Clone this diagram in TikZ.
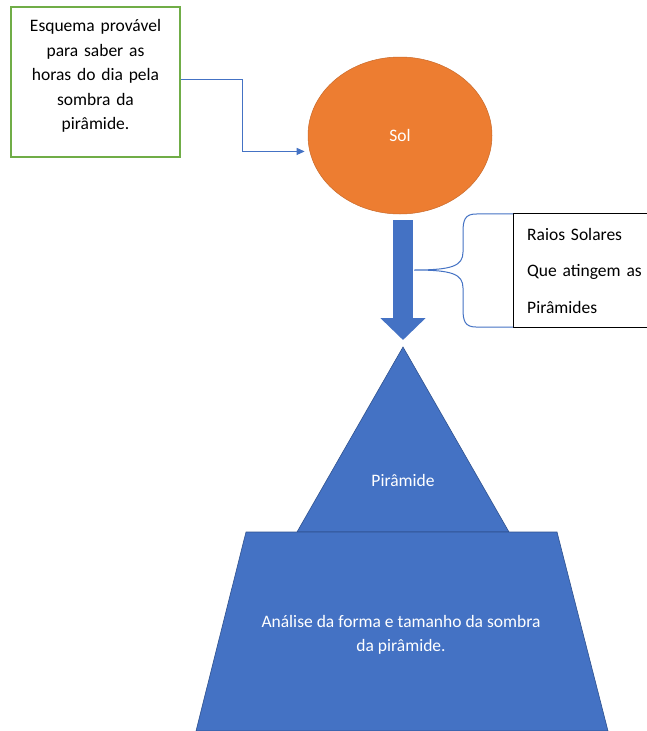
\documentclass[tikz,border=0pt]{standalone}
\usepackage{fontspec}
\setmainfont{Carlito}
\usetikzlibrary{arrows.meta,positioning,shapes.geometric,calc}
\definecolor{wordGreen}{HTML}{70AD47}
\definecolor{wordOrange}{HTML}{ED7D31}
\definecolor{wordBlue}{HTML}{4472C4}
\definecolor{wordBlueDk}{HTML}{2F528F}
\tikzset{
  caixa/.style={draw=wordGreen, line width=1.2pt, minimum width=169pt, minimum height=150pt},
  texto/.style={align=center, text width=150pt, font=\fontsize{17.5}{24.5}\selectfont},
  sol/.style={ellipse, fill=wordOrange, draw=wordOrange!85!black, line width=0.5pt, minimum width=184pt, minimum height=157pt, text=white, font=\fontsize{17.5}{21}\selectfont},
  bloco/.style={fill=wordBlue, draw=wordBlueDk, line width=0.6pt},
  rotulo/.style={text=white, align=center, font=\fontsize{17.5}{24.5}\selectfont},
  ligacao/.style={draw=wordBlue, line width=1pt, -{Triangle[length=8pt,width=7pt]}},
  raio/.style={draw=wordBlue, line width=20pt, -{Triangle[length=22pt,width=44pt]}},
  chave/.style={draw=wordBlue, line width=1pt},
}
\begin{document}
\begin{tikzpicture}[x=1pt,y=-1pt]
\useasboundingbox[fill=white] (0,0) rectangle (647,731);

\node[caixa] (esquema) at (95.5,82) {};
\node[texto] (esquematexto) at ([yshift=6pt]esquema.center) {Esquema provável\\para saber as\\horas do dia pela\\sombra da\\pirâmide.};
\node[sol] (sol) at (400,135.5) {Sol};
\draw[ligacao] (esquema.east) ++(0,3pt) -- ++(62,0) |- ([xshift=-5pt]sol.190);

% raios solares
\draw[raio] ([xshift=3pt,yshift=-6pt]sol.south) -- (403,340);
\coordinate (ponta) at (414,270);
\node[align=left, text width=132pt, inner xsep=14pt, minimum width=160pt, minimum height=113pt, anchor=west, font=\fontsize{17.5}{36.5}\selectfont] (raios) at (513,270.5) {Raios Solares\\Que atingem as\\Pirâmides};
\draw[line width=1pt] (raios.north west) ++(134,0) -- (raios.north west) -- (raios.south west) -- ++(134,0);
\draw[chave] (raios.north west) -- (476,214) .. controls (465,214) and (463,220) .. (463,232) -- (463,252)
  .. controls (463,266) and (452,270) .. (ponta) .. controls (452,270) and (463,274) .. (463,288)
  -- (463,309) .. controls (463,321) and (465,327) .. (476,327) -- (raios.south west);

% piramide
\coordinate (apice) at (403,347);
\fill[bloco] (apice) -- (297,532) -- (509,532) -- cycle;
\node[rotulo] (piramide) at (403,480) {Pirâmide};
\filldraw[bloco] (246,532) -- (557,532) -- (608,731) -- (196,731) -- cycle;
\node[rotulo] (sombra) at (401,635) {Análise da forma e tamanho da sombra\\da pirâmide.};
\end{tikzpicture}
\end{document}
